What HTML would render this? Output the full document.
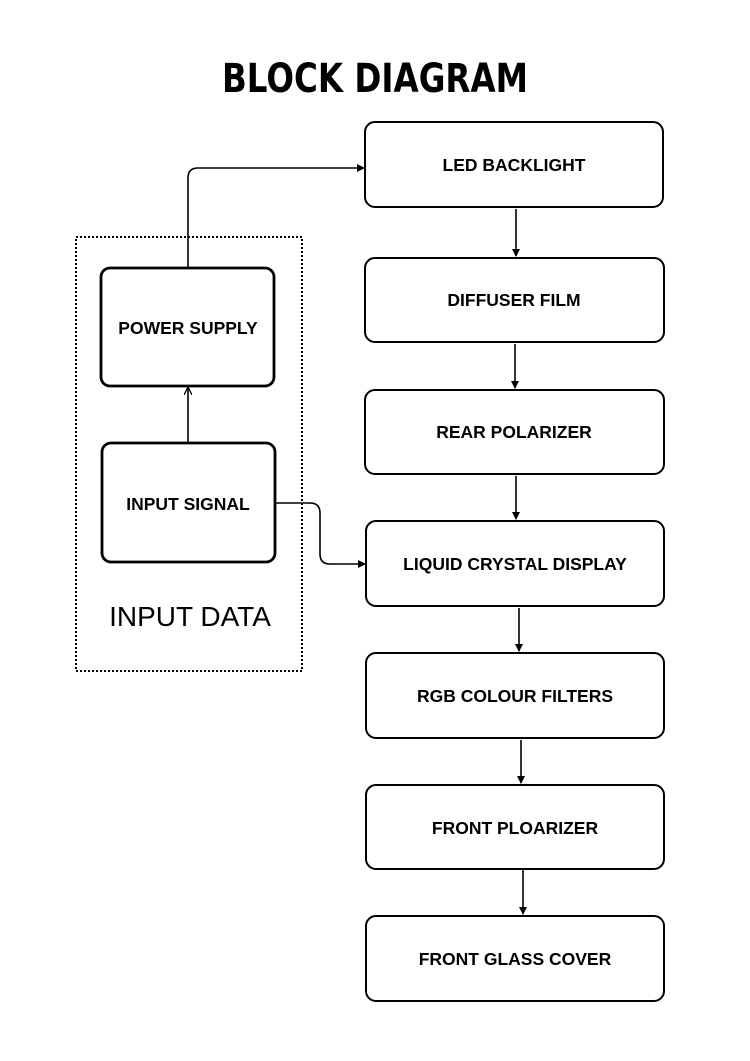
<!DOCTYPE html>
<html><head><meta charset="utf-8"><style>
html,body{margin:0;padding:0;background:#fff;}
svg{display:block;}
.t{font-family:"Liberation Sans",sans-serif;font-weight:bold;font-size:17.5px;fill:#000;}
</style></head><body>
<svg width="750" height="1061" viewBox="0 0 750 1061" xmlns="http://www.w3.org/2000/svg">
<defs><marker id="a" markerWidth="8" markerHeight="8" refX="7" refY="4" orient="auto" markerUnits="userSpaceOnUse"><path d="M0,0 L8,4 L0,8 Z" fill="#000"/></marker>
<marker id="b" markerWidth="8" markerHeight="8" refX="7" refY="4" orient="auto" markerUnits="userSpaceOnUse"><path d="M0,0 L8,4 L0,8" fill="none" stroke="#000" stroke-width="1.3"/></marker></defs>
<text x="375" y="92" text-anchor="middle" textLength="306" lengthAdjust="spacingAndGlyphs" style="font-family:'DejaVu Sans',sans-serif;font-weight:bold;font-size:40px">BLOCK DIAGRAM</text>
<rect x="76" y="237" width="226" height="434" fill="none" stroke="#000" stroke-width="2" stroke-dasharray="2,2"/>
<g fill="none" stroke="#000" stroke-width="2.8">
<rect x="101" y="268" width="173" height="118" rx="9"/>
<rect x="102" y="443" width="173" height="119" rx="9"/>
</g>
<g fill="none" stroke="#000" stroke-width="2">
<rect x="365" y="122" width="298" height="85" rx="10"/>
<rect x="365" y="258" width="299" height="84" rx="10"/>
<rect x="365" y="390" width="299" height="84" rx="10"/>
<rect x="366" y="521" width="298" height="85" rx="10"/>
<rect x="366" y="653" width="298" height="85" rx="10"/>
<rect x="366" y="785" width="298" height="84" rx="10"/>
<rect x="366" y="916" width="298" height="85" rx="10"/>
</g>
<g fill="none" stroke="#000" stroke-width="1.6">
<path d="M188,267 V178 Q188,168 198,168 H364" marker-end="url(#a)"/>
<path d="M188,442 V388" marker-end="url(#b)"/>
<path d="M276,503 H310 Q320,503 320,513 V554 Q320,564 330,564 H365" marker-end="url(#a)"/>
<path d="M516,209 V256" marker-end="url(#a)"/>
<path d="M515,344 V388" marker-end="url(#a)"/>
<path d="M516,476 V519" marker-end="url(#a)"/>
<path d="M519,608 V651" marker-end="url(#a)"/>
<path d="M521,740 V783" marker-end="url(#a)"/>
<path d="M523,870 V914" marker-end="url(#a)"/>
</g>
<text class="t" x="188" y="334" text-anchor="middle">POWER SUPPLY</text>
<text class="t" x="188" y="510" text-anchor="middle">INPUT SIGNAL</text>
<text x="190" y="626" text-anchor="middle" style="font-family:'Liberation Sans',sans-serif;font-size:28px">INPUT DATA</text>
<text class="t" x="514" y="171" text-anchor="middle">LED BACKLIGHT</text>
<text class="t" x="514" y="306" text-anchor="middle">DIFFUSER FILM</text>
<text class="t" x="514" y="438" text-anchor="middle">REAR POLARIZER</text>
<text class="t" x="515" y="570" text-anchor="middle">LIQUID CRYSTAL DISPLAY</text>
<text class="t" x="515" y="702" text-anchor="middle">RGB COLOUR FILTERS</text>
<text class="t" x="515" y="834" text-anchor="middle">FRONT PLOARIZER</text>
<text class="t" x="515" y="965" text-anchor="middle">FRONT GLASS COVER</text>
</svg>
</body></html>
